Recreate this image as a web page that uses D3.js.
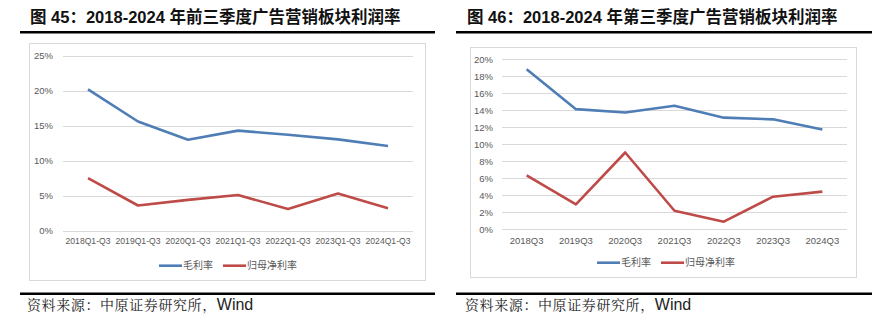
<!DOCTYPE html>
<html><head><meta charset="utf-8">
<script src="https://cdn.jsdelivr.net/npm/d3@7"></script>
<style>
html,body{margin:0;padding:0;background:#fff;}
svg{display:block;}
</style>
</head><body>
<svg id="c" width="895" height="321"></svg>
<script>
const leftTitle = "图 45：2018-2024 年前三季度广告营销板块利润率";
const rightTitle = "图 46：2018-2024 年第三季度广告营销板块利润率";
const sourceText = "资料来源：中原证券研究所，";
const seriesNames = ["毛利率", "归母净利率"];
const leftCategories = ["2018Q1-Q3","2019Q1-Q3","2020Q1-Q3","2021Q1-Q3","2022Q1-Q3","2023Q1-Q3","2024Q1-Q3"];
const leftGross = [20.2, 15.6, 13.0, 14.3, 13.7, 13.05, 12.1];
const leftNet = [7.5, 3.6, 4.4, 5.1, 3.1, 5.3, 3.2];
const leftTicks = [0, 5, 10, 15, 20, 25];
const rightCategories = ["2018Q3","2019Q3","2020Q3","2021Q3","2022Q3","2023Q3","2024Q3"];
const rightGross = [18.8, 14.1, 13.7, 14.5, 13.1, 12.9, 11.7];
const rightNet = [6.3, 2.9, 9.0, 2.15, 0.86, 3.8, 4.4];
const rightTicks = [0, 2, 4, 6, 8, 10, 12, 14, 16, 18, 20];

const colors = ["#4F7DB5", "#BE4B48"];
const svg = d3.select("#c");
const cjk = "'Noto Sans CJK SC', sans-serif";
const latin = "'Liberation Sans', Arial, sans-serif";

function panel(o) {
  const g = svg.append("g");
  g.append("text").attr("x", o.titleX).attr("y", 23)
    .attr("font-size", 16.5).attr("font-weight", "bold").attr("fill", "#111")
    .attr("font-family", latin + ", " + cjk).text(o.title);
  g.append("rect").attr("x", o.ruleX0).attr("y", 31).attr("width", o.ruleX1 - o.ruleX0).attr("height", 2.5).attr("fill", "#000");
  g.append("rect").attr("x", o.ruleX0).attr("y", 292.5).attr("width", o.ruleX1 - o.ruleX0).attr("height", 2.5).attr("fill", "#000");
  const s = g.append("text").attr("x", o.srcX).attr("y", 310).attr("fill", "#222");
  s.append("tspan").attr("font-family", "'Noto Serif CJK SC', " + cjk).attr("font-size", 14).attr("letter-spacing", 0.6).text(sourceText);
  s.append("tspan").attr("font-family", latin).attr("font-size", 16).text("Wind");
  g.append("rect").attr("x", o.box[0] + 0.5).attr("y", o.box[1] + 0.5)
    .attr("width", o.box[2] - o.box[0]).attr("height", o.box[3] - o.box[1])
    .attr("fill", "#fff").attr("stroke", "#D9D9D9").attr("stroke-width", 1);

  const x = d3.scaleBand().domain(o.categories).range([o.px0, o.px1]);
  const y = d3.scaleLinear().domain([0, o.ticks[o.ticks.length - 1]]).range([o.py0, o.py1]);

  g.append("g").selectAll("line").data(o.ticks).join("line")
    .attr("x1", o.px0).attr("x2", o.px1)
    .attr("y1", d => Math.round(y(d)) + 0.5).attr("y2", d => Math.round(y(d)) + 0.5)
    .attr("stroke", "#D9D9D9").attr("stroke-width", 1);

  const yAxis = d3.axisLeft(y).tickValues(o.ticks).tickFormat(d => d + "%").tickSize(0).tickPadding(0);
  const ya = g.append("g").attr("transform", `translate(${o.yLabelX},0)`).call(yAxis);
  ya.select(".domain").remove();
  ya.selectAll("text").attr("font-size", 9.5).attr("font-family", latin).attr("fill", "#595959");

  const xAxis = d3.axisBottom(x).tickSize(0).tickPadding(0);
  const xa = g.append("g").attr("transform", `translate(0,${o.xLabelY})`).call(xAxis);
  xa.select(".domain").remove();
  xa.selectAll("text").attr("font-size", o.xFont).attr("font-family", latin).attr("fill", "#595959");

  const line = d3.line().x((d, i) => x(o.categories[i]) + x.bandwidth() / 2).y(d => y(d));
  [o.gross, o.net].forEach((ser, k) => {
    g.append("path").datum(ser).attr("d", line).attr("fill", "none")
      .attr("stroke", colors[k]).attr("stroke-width", 2.6).attr("stroke-linejoin", "round");
  });

  o.legend.forEach((lx, k) => {
    g.append("line").attr("x1", lx).attr("x2", lx + 23).attr("y1", o.legendY).attr("y2", o.legendY)
      .attr("stroke", colors[k]).attr("stroke-width", 2.6);
    g.append("text").attr("x", lx + 24).attr("y", o.legendY + 3.5).attr("font-size", 10)
      .attr("font-family", cjk).attr("fill", "#595959").text(seriesNames[k]);
  });
}

panel({
  title: leftTitle, titleX: 30, ruleX0: 20, ruleX1: 435, srcX: 27,
  box: [29, 43, 425, 280],
  categories: leftCategories, gross: leftGross, net: leftNet, ticks: leftTicks,
  px0: 63, px1: 413, py0: 230.7, py1: 55.7,
  yLabelX: 53, xLabelY: 238, xFont: 8.6, legendY: 265.7, legend: [159, 223]
});
panel({
  title: rightTitle, titleX: 467, ruleX0: 456, ruleX1: 872, srcX: 465,
  box: [470, 47, 856, 277],
  categories: rightCategories, gross: rightGross, net: rightNet, ticks: rightTicks,
  px0: 502, px1: 847, py0: 229, py1: 59,
  yLabelX: 493, xLabelY: 237, xFont: 9.5, legendY: 262.7, legend: [597, 661]
});
</script>
</body></html>
